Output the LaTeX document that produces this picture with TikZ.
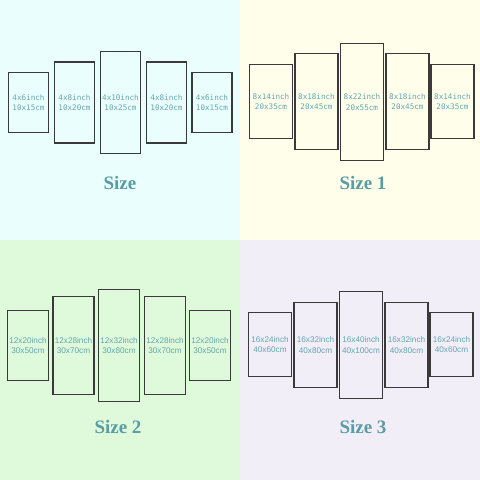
\documentclass[tikz,border=0pt]{standalone}
\usepackage{fontspec}
\setmainfont{Liberation Serif}
\newfontfamily\panelmono{DejaVu Sans Mono}
\newfontfamily\panelsans{Liberation Sans}
\usepackage{tikz}
\usetikzlibrary{
  calc,
  positioning
}
\definecolor{bgcyan}{HTML}{EBFEFE}
\definecolor{bgyellow}{HTML}{FEFEEA}
\definecolor{bggreen}{HTML}{DFFADB}
\definecolor{bglilac}{HTML}{F2EEF8}
\definecolor{labelteal}{HTML}{62A6AE}
\definecolor{titleteal}{HTML}{5A9CA3}
\definecolor{framegray}{HTML}{3A3A3A}

\begin{document}
\begin{tikzpicture}[x=1pt,y=-1pt]
  \tikzset{
    canvas/.style={
      draw=framegray, line width=1.4pt, rectangle, inner sep=0pt,
      align=center, text=labelteal
    },
    topcanvas/.style={canvas, font=\panelmono\fontsize{7.6}{10.5}\selectfont},
    lowcanvas/.style={canvas, font=\panelsans\fontsize{8.2}{10.5}\selectfont},
    sizetitle/.style={text=titleteal, font=\bfseries\fontsize{19}{22}\selectfont},
    % every node/.style={font=\large}
  }
  \useasboundingbox (0,0) rectangle (480,480);

  % backgrounds
  \fill[bgcyan]   (0,0)     rectangle (240,240);
  \fill[bgyellow] (240,0)   rectangle (480,240);
  \fill[bggreen]  (0,240)   rectangle (240,480);
  \fill[bglilac]  (240,240) rectangle (480,480);

  % Size
  \node[topcanvas, minimum width=40pt, minimum height=60pt]  (sa) at (28.5,102.5)  {4x6inch\\10x15cm};
  \node[topcanvas, minimum width=40pt, minimum height=81pt]  (sb) at (74.5,102.5)  {4x8inch\\10x20cm};
  \node[topcanvas, minimum width=40pt, minimum height=102pt] (sc) at (120.5,102.5) {4x10inch\\10x25cm};
  \node[topcanvas, minimum width=40pt, minimum height=81pt]  (sd) at (166.5,102.5) {4x8inch\\10x20cm};
  \node[topcanvas, minimum width=40pt, minimum height=60pt]  (se) at (212,102.5)   {4x6inch\\10x15cm};
  \node[sizetitle] (s) at (120,183) {Size};

  % Size 1
  \node[topcanvas, minimum width=43pt, minimum height=74pt]  (oa) at (271,101.5)   {8x14inch\\20x35cm};
  \node[topcanvas, minimum width=43pt, minimum height=96pt]  (ob) at (316.5,101.5) {8x18inch\\20x45cm};
  \node[topcanvas, minimum width=43pt, minimum height=117pt] (oc) at (362,102)     {8x22inch\\20x55cm};
  \node[topcanvas, minimum width=43pt, minimum height=96pt]  (od) at (407.5,101.5) {8x18inch\\20x45cm};
  \node[topcanvas, minimum width=43pt, minimum height=74pt]  (oe) at (452.5,101.5) {8x14inch\\20x35cm};
  \node[sizetitle] (o) at (363,183) {Size 1};

  % Size 2
  \node[lowcanvas, minimum width=41pt, minimum height=70pt]  (ta) at (28,345.5)    {12x20inch\\30x50cm};
  \node[lowcanvas, minimum width=41pt, minimum height=98pt]  (tb) at (73.5,345.5)  {12x28inch\\30x70cm};
  \node[lowcanvas, minimum width=41pt, minimum height=112pt] (tc) at (119,345.5)   {12x32inch\\30x80cm};
  \node[lowcanvas, minimum width=41pt, minimum height=98pt]  (td) at (165,345.5)   {12x28inch\\30x70cm};
  \node[lowcanvas, minimum width=41pt, minimum height=70pt]  (te) at (210,345.5)   {12x20inch\\30x50cm};
  \node[sizetitle] (t) at (118,427) {Size 2};

  % Size 3
  \node[lowcanvas, minimum width=43pt, minimum height=64pt]  (ha) at (270,344.5)   {16x24inch\\40x60cm};
  \node[lowcanvas, minimum width=43pt, minimum height=85pt]  (hb) at (315.5,345)   {16x32inch\\40x80cm};
  \node[lowcanvas, minimum width=43pt, minimum height=107pt] (hc) at (361,345)     {16x40inch\\40x100cm};
  \node[lowcanvas, minimum width=43pt, minimum height=85pt]  (hd) at (406.5,345)   {16x32inch\\40x80cm};
  \node[lowcanvas, minimum width=43pt, minimum height=64pt]  (he) at (451.5,344.5) {16x24inch\\40x60cm};
  \node[sizetitle] (h) at (363,427) {Size 3};

\end{tikzpicture}
\end{document}
